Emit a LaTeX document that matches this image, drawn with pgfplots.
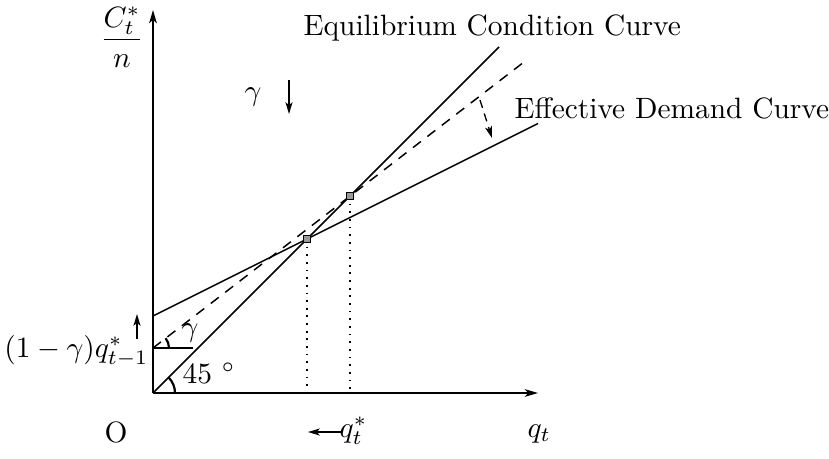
\documentclass[border=0pt]{standalone}
\usepackage{amsmath}
\usepackage{pgfplots}
\pgfplotsset{compat=1.18}
\usetikzlibrary{arrows.meta}

\begin{document}
\begin{tikzpicture}
\begin{axis}[
    x=0.340pt, y=0.340pt,
    xmin=0, xmax=385, ymin=0, ymax=383,
    axis lines=left,
    axis line style={line width=0.55pt},
    x axis line style={-{Stealth[length=4.5pt,width=2.6pt,inset=1.2pt]}},
    y axis line style={-{Stealth[length=4.5pt,width=2.6pt,inset=1.2pt]}},
    xtick=\empty, ytick=\empty,
    clip=false,
]
% equilibrium condition curve (45 degree line)
\addplot[black, line width=0.5pt] coordinates {(0,0) (346,346)};
% effective demand curve
\addplot[black, line width=0.5pt] coordinates {(0,77) (385,269.5)};
% shifted effective demand curve (dashed)
\addplot[black, line width=0.5pt, dash pattern=on 3.4pt off 2.8pt] coordinates {(0,45) (371,331)};
% horizontal stub at (1-gamma) q*_{t-1}
\addplot[black, line width=0.55pt] coordinates {(0,45) (40,45)};
% dotted drop lines
\addplot[black, dotted, line width=0.6pt] coordinates {(154,154) (154,0)};
\addplot[black, dotted, line width=0.6pt] coordinates {(197,197) (197,0)};
% equilibrium points
\addplot[only marks, mark=square*, mark size=1.1pt, mark options={fill=gray!80, draw=black, line width=0.4pt}]
    coordinates {(154,154) (197,197)};

% angle arcs
\draw[line width=0.75pt] (axis cs:22,0) arc[start angle=0, end angle=45, radius=7.5pt];
\draw[line width=0.75pt] (axis cs:16,45) arc[start angle=0, end angle=37.6, radius=5.45pt];

% labels
\node at (axis cs:-31,356) {$\dfrac{C_t^*}{n}$};
\node at (axis cs:100,296) {$\gamma$};
\draw[-{Stealth[length=4pt,width=2.4pt,inset=1pt]}, line width=0.5pt] (axis cs:136,313) -- (axis cs:136,279);
\node[anchor=base west, inner sep=0pt] at (axis cs:150,358) {Equilibrium Condition Curve};
\node[anchor=base west, inner sep=0pt] at (axis cs:361,275) {Effective Demand Curve};
\draw[-{Stealth[length=4pt,width=2.4pt,inset=1pt]}, line width=0.45pt, dash pattern=on 2.8pt off 2pt] (axis cs:327,293) -- (axis cs:339,255);
\node[anchor=base east, inner sep=0pt] at (axis cs:-4,36) {$(1-\gamma)q_{t-1}^*$};
\draw[-{Stealth[length=4pt,width=2.4pt,inset=1pt]}, line width=0.5pt] (axis cs:-16,54) -- (axis cs:-16,79);
\node at (axis cs:37,60) {$\gamma$};
\node[anchor=west, inner sep=0pt] at (axis cs:29,20) {$45\ ^\circ$};
\node[anchor=base, inner sep=0pt] at (axis cs:-37,-49) {O};
\draw[-{Stealth[length=4pt,width=2.4pt,inset=1pt]}, line width=0.5pt] (axis cs:188,-39) -- (axis cs:155,-39);
\node[anchor=base west, inner sep=0pt] at (axis cs:186,-44) {$q_t^*$};
\node[anchor=base west, inner sep=0pt] at (axis cs:374,-44) {$q_t$};

\coordinate (BL) at (axis cs:-153,-65);
\coordinate (TR) at (axis cs:676,393);
\end{axis}
\pgfresetboundingbox
\path[use as bounding box] (BL) rectangle (TR);
\end{tikzpicture}
\end{document}
